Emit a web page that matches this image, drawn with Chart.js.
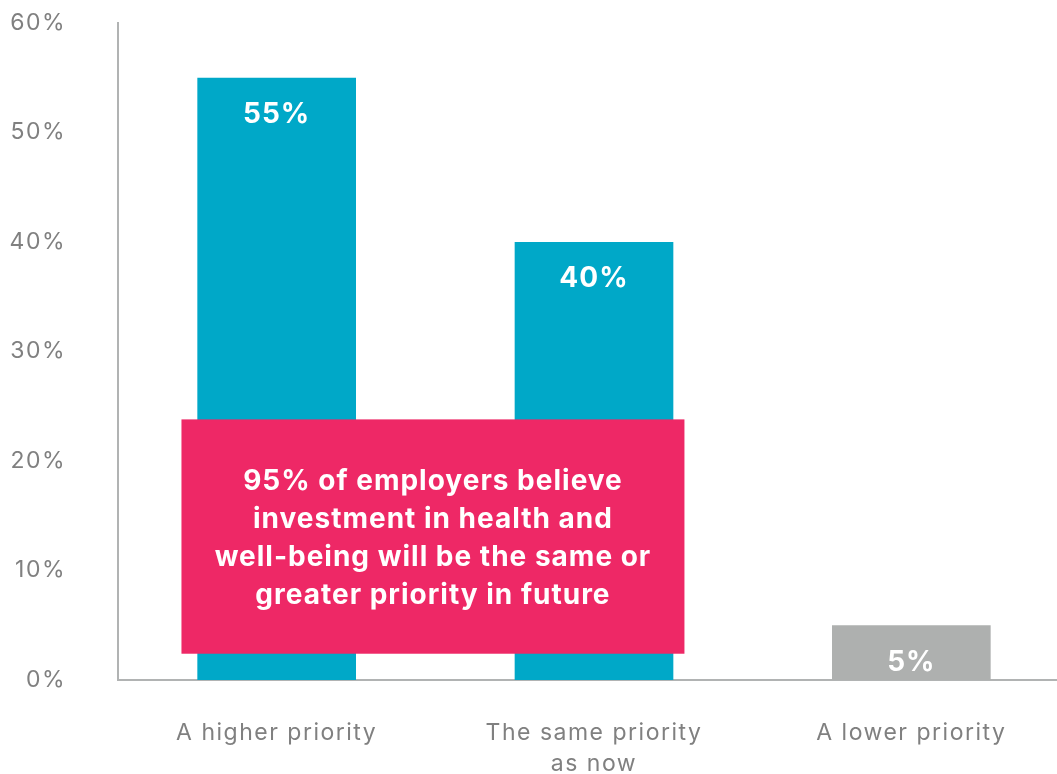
<!DOCTYPE html>
<html>
<head>
<meta charset="utf-8">
<script src="https://cdn.jsdelivr.net/npm/chart.js@4"></script>
<style>
  html, body { margin: 0; padding: 0; background: #fff; overflow: hidden; }
  .wrap { position: relative; width: 1070px; height: 774px; }
</style>
</head>
<body>
<div class="wrap"><canvas id="chart"></canvas></div>
<script>
'use strict';

// data
const categories = ['A higher priority', ['The same priority', 'as now'], 'A lower priority'];
const values = [55, 40, 5];
const barColors = ['#00A8C8', '#00A8C8', '#AEB0AF'];
const yTicks = [0, 10, 20, 30, 40, 50, 60];
const calloutLines = [
  '95% of employers believe',
  'investment in health and',
  'well-being will be the same or',
  'greater priority in future',
];

const FONT = 'Inter, "Liberation Sans", sans-serif';
const GREY_TEXT = '#808080';
const AXIS = '#B1B3B3';
const PINK = '#EE2866';

/* the reference type is wider than Inter: widen the axis text a little */
const spacing = {
  id: 'spacing',
  beforeDraw(chart) { chart.ctx.letterSpacing = '1.5px'; },
};

/* bar value labels, near the top inside each bar */
const valueLabels = {
  id: 'valueLabels',
  afterDatasetsDraw(chart) {
    const { ctx } = chart;
    const meta = chart.getDatasetMeta(0);
    ctx.save();
    ctx.letterSpacing = '1px';
    ctx.fillStyle = '#fff';
    ctx.font = `bold 28px ${FONT}`;
    ctx.textAlign = 'center';
    ctx.textBaseline = 'middle';
    meta.data.forEach((bar, i) => {
      ctx.fillText(values[i] + '%', bar.x, bar.y + 37);
    });
    ctx.restore();
  },
};

/* pink callout box over the first two bars */
const callout = {
  id: 'callout',
  afterDatasetsDraw(chart) {
    const { ctx, scales: { x, y } } = chart;
    const step = x.getPixelForValue(1) - x.getPixelForValue(0);
    const left = x.getPixelForValue(0) - 0.3 * step;
    const right = x.getPixelForValue(1) + 0.285 * step;
    const top = y.getPixelForValue(23.8);
    const bottom = y.getPixelForValue(2.4);
    ctx.save();
    ctx.fillStyle = PINK;
    ctx.fillRect(left, top, right - left, bottom - top);
    ctx.letterSpacing = '1px';
    ctx.fillStyle = '#fff';
    ctx.font = `bold 28px ${FONT}`;
    ctx.textAlign = 'center';
    ctx.textBaseline = 'middle';
    const cx = (left + right) / 2;
    const lh = 38;
    const cy = (top + bottom) / 2 + 2;
    calloutLines.forEach((t, i) => {
      ctx.fillText(t, cx, cy + (i - (calloutLines.length - 1) / 2) * lh);
    });
    ctx.restore();
  },
};

new Chart(document.getElementById('chart'), {
  type: 'bar',
  data: {
    labels: categories,
    datasets: [{
      data: values,
      backgroundColor: barColors,
      barPercentage: 0.5,
      categoryPercentage: 1,
    }],
  },
  options: {
    responsive: true,
    maintainAspectRatio: false,
    animation: false,
    layout: { padding: { top: 23, right: 0, left: 0, bottom: 0 } },
    plugins: { legend: { display: false }, tooltip: { enabled: false } },
    scales: {
      y: {
        min: 0,
        max: 60,
        afterBuildTicks: (s) => { s.ticks = yTicks.map((v) => ({ value: v })); },
        afterFit: (s) => { s.width = 118; s.paddingTop = 0; s.paddingBottom = 0; },
        grid: { display: false, drawTicks: false },
        border: { color: AXIS, width: 2 },
        ticks: {
          padding: 52,
          color: GREY_TEXT,
          font: { family: FONT, size: 23 },
          callback: (v) => v + '%',
        },
      },
      x: {
        afterFit: (s) => { s.height = 94; },
        grid: { display: false, drawTicks: false },
        border: { color: AXIS, width: 2 },
        ticks: {
          padding: 38,
          color: GREY_TEXT,
          font: { family: FONT, size: 23, lineHeight: 1.35 },
          maxRotation: 0,
          autoSkip: false,
        },
      },
    },
  },
  plugins: [spacing, callout, valueLabels],
});
</script>
</body>
</html>
